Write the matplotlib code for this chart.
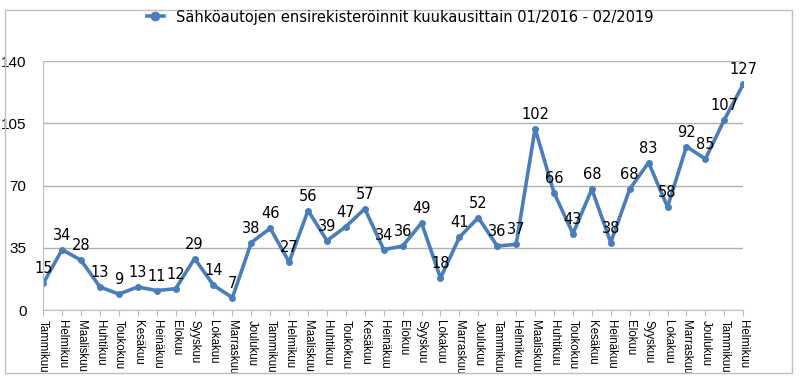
import matplotlib.pyplot as plt
from matplotlib.patches import Rectangle

# Kuukausien nimet ja arvot 01/2016 - 02/2019
kuukaudet = ['Tammikuu', 'Helmikuu', 'Maaliskuu', 'Huhtikuu', 'Toukokuu', 'Kesäkuu',
             'Heinäkuu', 'Elokuu', 'Syyskuu', 'Lokakuu', 'Marraskuu', 'Joulukuu']
labels = kuukaudet * 3 + kuukaudet[:2]
arvot = [15, 34, 28, 13, 9, 13, 11, 12, 29, 14, 7, 38,
         46, 27, 56, 39, 47, 57, 34, 36, 49, 18, 41, 52,
         36, 37, 102, 66, 43, 68, 38, 68, 83, 58, 92, 85,
         107, 127]
yticks = [0, 35, 70, 105, 140]
otsikko = 'Sähköautojen ensirekisteröinnit kuukausittain 01/2016 - 02/2019'

color = '#4a7ebb'
fig = plt.figure(figsize=(8, 3.8), dpi=100)
ax = fig.add_axes([0.054, 0.184, 0.875, 0.655])

x = list(range(len(arvot)))
line, = ax.plot(x, arvot, color=color, lw=2.6, marker='o', ms=4, label=otsikko)

for xi, v in zip(x, arvot):
    ax.annotate(str(v), (xi, v), xytext=(0, 5), textcoords='offset points',
                ha='center', va='bottom', fontsize=10.5, color='black')

ax.set_xlim(0, len(arvot) - 1)
ax.set_ylim(0, 140)
ax.set_yticks(yticks)
ax.set_yticklabels([str(t) for t in yticks], fontfamily='Liberation Sans', fontsize=11)
ax.set_xticks(x)
ax.set_xticklabels(labels, rotation=-90, fontsize=8.3, va='top', ha='center',
                   fontfamily='Liberation Sans')
ax.tick_params(axis='y', length=0, pad=12)
ax.tick_params(axis='x', length=4, color='#bfbfbf', pad=3)
ax.grid(axis='y', color='#b0b0b0', lw=1)
ax.set_axisbelow(True)
for s in ['top', 'right']:
    ax.spines[s].set_visible(False)
ax.spines['left'].set_color('#bfbfbf')
ax.spines['bottom'].set_color('#bfbfbf')

fig.legend(handles=[line], loc='center', bbox_to_anchor=(0.5, 0.955), frameon=False,
           fontsize=10.5, handlelength=1.2, markerscale=1.5)

fig.patches.append(Rectangle((0.006, 0.018), 0.984, 0.955, transform=fig.transFigure,
                             fill=False, edgecolor='#c0c0c0', lw=1))

fig.savefig('out.png', dpi=100)
